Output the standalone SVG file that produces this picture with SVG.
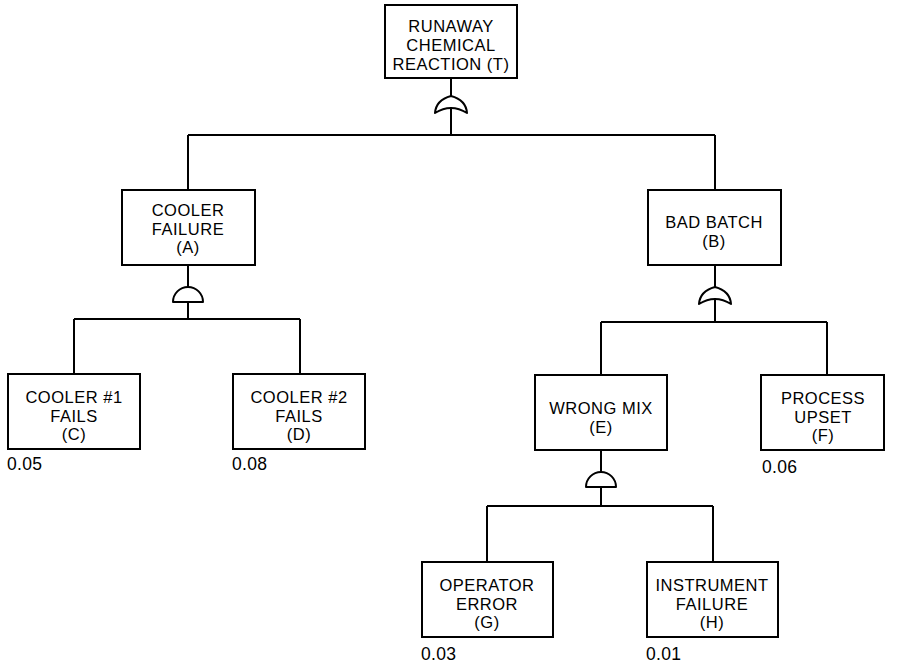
<svg xmlns="http://www.w3.org/2000/svg" width="899" height="663" viewBox="0 0 899 663">
<style>
.box{fill:#fff;stroke:#000;stroke-width:2}
.ln{fill:none;stroke:#000;stroke-width:2}
.gate{fill:#fff;stroke:#000;stroke-width:2;stroke-linejoin:round}
text{font-family:"Liberation Sans",Arial,sans-serif;font-size:16.5px;letter-spacing:0.5px;fill:#000}
.c{text-anchor:middle}
.num{font-size:17.5px;letter-spacing:0.3px}
</style>
<rect width="899" height="663" fill="#fff"/>
<g id="connectors">
<path class="ln" d="M451,78V97M451,108V135M188,135H715M188,135V190M715,135V190"/>
<path class="ln" d="M188,265V287M188,302V319M74,319H300M74,319V374M300,319V374"/>
<path class="ln" d="M715,265V288M715,299V322M601,322H827M601,322V375M827,322V375"/>
<path class="ln" d="M601,450V472M601,487V506M487,506H713M487,506V562M713,506V562"/>
</g>
<g id="gates">
<path id="gate-T" class="gate" d="M435,113 Q436,100 451,96 Q466,100 467,113 Q451,103 435,113 Z"/>
<path id="gate-A" class="gate" d="M173,302 A15,15 0 0 1 203,302 Z"/>
<path id="gate-B" class="gate" d="M699,304 Q700,291 715,287 Q730,291 731,304 Q715,294 699,304 Z"/>
<path id="gate-E" class="gate" d="M586,487 A15,15 0 0 1 616,487 Z"/>
</g>
<g id="node-T">
<rect class="box" x="385" y="5" width="132" height="73"/>
<text class="c" x="451" y="32">RUNAWAY</text>
<text class="c" x="451" y="51">CHEMICAL</text>
<text class="c" x="451" y="70">REACTION (T)</text>
</g>
<g id="node-A">
<rect class="box" x="122" y="190" width="133" height="75"/>
<text class="c" x="188" y="216">COOLER</text>
<text class="c" x="188" y="234.5">FAILURE</text>
<text class="c" x="188" y="253">(A)</text>
</g>
<g id="node-B">
<rect class="box" x="648" y="190" width="133" height="75"/>
<text class="c" x="714" y="228">BAD BATCH</text>
<text class="c" x="714" y="246.5">(B)</text>
</g>
<g id="node-C">
<rect class="box" x="8" y="374" width="132" height="75"/>
<text class="c" x="74" y="403">COOLER #1</text>
<text class="c" x="74" y="421.5">FAILS</text>
<text class="c" x="74" y="440">(C)</text>
<text class="num" x="7" y="470">0.05</text>
</g>
<g id="node-D">
<rect class="box" x="233" y="374" width="132" height="75"/>
<text class="c" x="299" y="403">COOLER #2</text>
<text class="c" x="299" y="421.5">FAILS</text>
<text class="c" x="299" y="440">(D)</text>
<text class="num" x="232" y="470">0.08</text>
</g>
<g id="node-E">
<rect class="box" x="535" y="375" width="132" height="75"/>
<text class="c" x="601" y="414">WRONG MIX</text>
<text class="c" x="601" y="432.5">(E)</text>
</g>
<g id="node-F">
<rect class="box" x="761" y="375" width="123" height="75"/>
<text class="c" x="823" y="404">PROCESS</text>
<text class="c" x="823" y="422.5">UPSET</text>
<text class="c" x="823" y="441">(F)</text>
<text class="num" x="762" y="473">0.06</text>
</g>
<g id="node-G">
<rect class="box" x="422" y="562" width="131" height="75"/>
<text class="c" x="487" y="591">OPERATOR</text>
<text class="c" x="487" y="609.5">ERROR</text>
<text class="c" x="487" y="628">(G)</text>
<text class="num" x="421" y="660">0.03</text>
</g>
<g id="node-H">
<rect class="box" x="647" y="562" width="131" height="75"/>
<text class="c" x="712" y="591">INSTRUMENT</text>
<text class="c" x="712" y="609.5">FAILURE</text>
<text class="c" x="712" y="628">(H)</text>
<text class="num" x="646" y="660">0.01</text>
</g>
</svg>
